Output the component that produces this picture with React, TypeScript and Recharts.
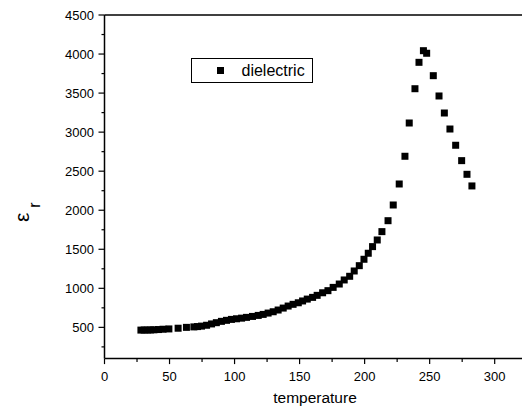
import {
  ScatterChart, Scatter, XAxis, YAxis, Legend,
} from 'recharts'

// temperature readings and the relative permittivity at each one
const TEMPS = [
  28, 30.5, 33, 35.5, 38, 41.5, 45, 49.5, 56.6, 63, 68.7, 71.5, 74.6, 78.5,
  82.3, 86, 89.9, 93.8, 97.6, 101.5, 105.4, 109.2, 113.8, 118.2, 122, 125.8,
  129.7, 133.5, 137.4, 141.2, 145, 149, 152.3, 155.9, 160, 163.5, 167.7,
  171.8, 175.8, 180.5, 184.3, 188.5, 192, 195.9, 199.5, 202.8, 206.1, 209.7,
  213.3, 218, 222, 226.6, 231, 234.3, 238.7, 241.8, 245.2, 247.7, 252.8,
  257.2, 261.3, 265.6, 270, 274.6, 278.7, 282.5,
]
const EPS_R = [
  465, 466, 466, 467, 469, 472, 476, 480, 489, 500, 506, 510, 516, 527,
  544, 560, 577, 590, 602, 610, 618, 628, 640, 653, 666, 683,
  700, 722, 747, 773, 795, 815, 838, 862, 884, 910, 943,
  970, 1012, 1055, 1107, 1154, 1222, 1290, 1372, 1449, 1534, 1619,
  1726, 1866, 2067, 2336, 2691, 3117, 3556, 3894, 4043, 4010, 3723,
  3463, 3245, 3040, 2832, 2635, 2460, 2311,
]

const X_TICKS = [0, 25, 50, 75, 100, 125, 150, 175, 200, 225, 250, 275, 300]
const TOP_TICKS = [32.4, 64.8, 97.2, 129.6, 162, 194.4, 226.8, 259.2, 291.6]
const Y_TICKS = [
  250, 500, 750, 1000, 1250, 1500, 1750, 2000, 2250, 2500,
  2750, 3000, 3250, 3500, 3750, 4000, 4250, 4500,
]

const FONT = '"Liberation Sans", Arial, sans-serif'

const data = TEMPS.map((t, i) => ({ t, e: EPS_R[i] }))

function BottomTick({ x, y, payload }: any) {
  const major = payload.value % 50 === 0
  return (
    <g>
      <line x1={x} x2={x} y1={y} y2={y + (major ? 5.5 : 3.5)} stroke="#000" strokeWidth={1.2} />
      {major && (
        <text x={x} y={y + 22} textAnchor="middle" fontSize={13} fontFamily={FONT} fill="#000">
          {payload.value}
        </text>
      )}
    </g>
  )
}

function TopTick({ x, y }: any) {
  return <line x1={x} x2={x} y1={y} y2={y - 2} stroke="#999" strokeWidth={1} />
}

function LeftTick({ x, y, payload }: any) {
  const major = payload.value % 500 === 0
  return (
    <g>
      <line x1={x - (major ? 6 : 3)} x2={x} y1={y} y2={y} stroke="#000" strokeWidth={1.2} />
      {major && (
        <text x={x - 10.5} y={y + 4.5} textAnchor="end" fontSize={13} fontFamily={FONT} fill="#000">
          {payload.value}
        </text>
      )}
    </g>
  )
}

function Square({ cx, cy }: any) {
  return <rect x={cx - 3.5} y={cy - 3.5} width={7} height={7} fill="#000" />
}

function LegendBox() {
  return (
    <div
      style={{
        boxSizing: 'border-box', width: 122, height: 25,
        border: '1.3px solid #000', background: '#fff',
        display: 'flex', alignItems: 'center', fontFamily: FONT, fontSize: 16,
      }}
    >
      <span style={{ width: 7, height: 7, background: '#000', marginLeft: 25, marginRight: 18 }} />
      <span>dielectric</span>
    </div>
  )
}

export default function App() {
  return (
    <div style={{ position: 'absolute', left: 0, top: 0, width: 522, height: 408, background: '#fff' }}>
      <ScatterChart width={522} height={408} margin={{ top: 14, right: 0, bottom: 19.4, left: 0.5 }}>
        <XAxis
          type="number"
          dataKey="t"
          domain={[0, 321]}
          ticks={X_TICKS}
          interval={0}
          tick={<BottomTick />}
          tickLine={false}
          tickSize={0}
          tickMargin={0}
          height={30}
          axisLine={{ stroke: '#000', strokeWidth: 1.5 }}
          allowDataOverflow
        />
        <XAxis
          xAxisId="top"
          orientation="top"
          type="number"
          domain={[0, 321]}
          ticks={TOP_TICKS}
          interval={0}
          tick={<TopTick />}
          tickLine={false}
          tickSize={0}
          tickMargin={0}
          height={1}
          axisLine={{ stroke: '#000', strokeWidth: 1.5 }}
          allowDataOverflow
        />
        <YAxis
          type="number"
          dataKey="e"
          domain={[100, 4500]}
          ticks={Y_TICKS}
          interval={0}
          tick={<LeftTick />}
          tickLine={false}
          tickSize={0}
          tickMargin={0}
          width={104}
          axisLine={{ stroke: '#000', strokeWidth: 1.5 }}
          allowDataOverflow
          label={{
            content: () => (
              <text transform="translate(28.5,222) rotate(-90)" fontFamily={FONT} fill="#000">
                <tspan fontSize={21}>ε</tspan>
                <tspan fontSize={16} dx={5} dy={11.5}>r</tspan>
              </text>
            ),
          }}
        />
        <Legend
          layout="horizontal"
          verticalAlign="middle"
          align="center"
          wrapperStyle={{ left: 190.5, top: 58, width: 122, height: 25 }}
          content={() => <LegendBox />}
        />
        <Scatter name="dielectric" data={data} shape={<Square />} isAnimationActive={false} />
        <text x={315} y={403} textAnchor="middle" fontSize={15.5} fontFamily={FONT} fill="#000">
          temperature
        </text>
      </ScatterChart>
    </div>
  )
}
